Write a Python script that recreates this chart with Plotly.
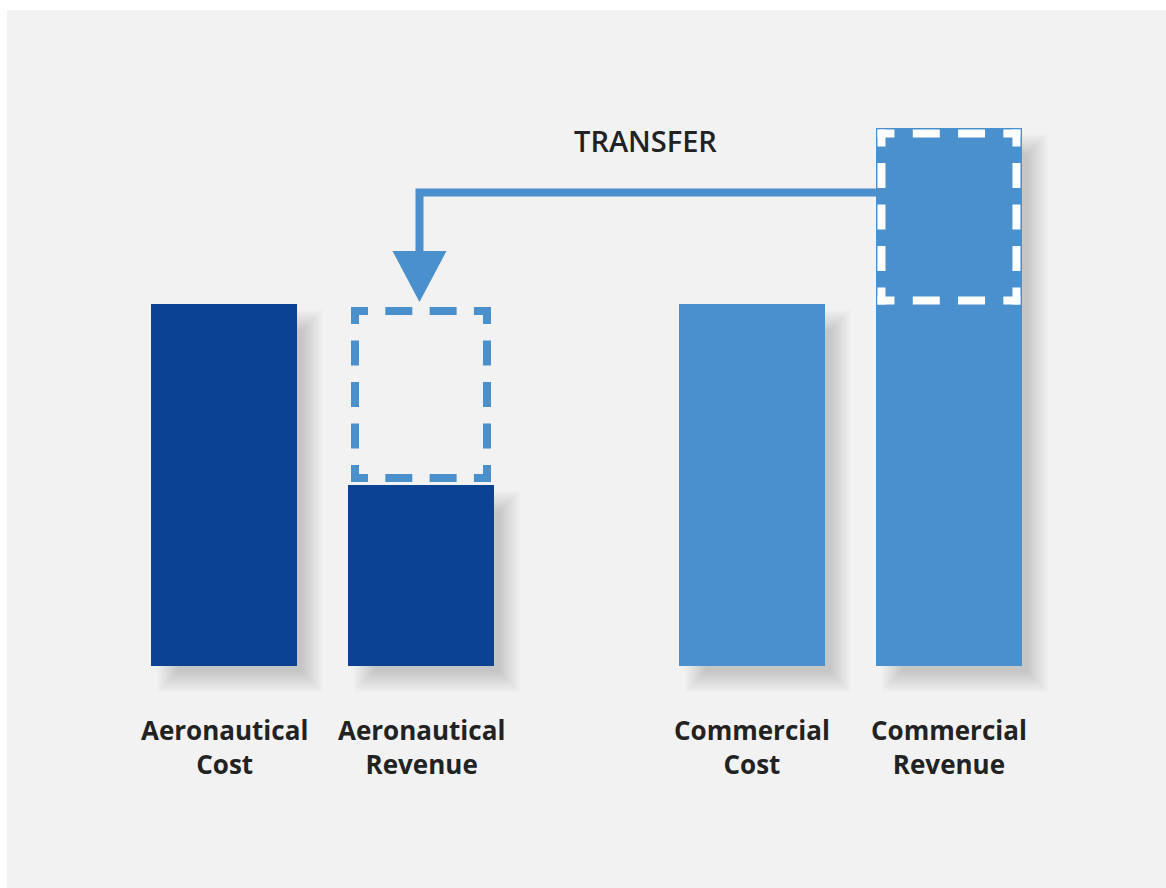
import plotly.graph_objects as go

# ---------------- data ----------------
categories = ["Aeronautical<br>Cost", "Aeronautical<br>Revenue",
              "Commercial<br>Cost", "Commercial<br>Revenue"]
groups = ["Aeronautical", "Aeronautical", "Commercial", "Commercial"]
values = [100, 50, 100, 148.6]
transfer_label = "TRANSFER"

# ---------------- layout / style ----------------
positions = [0, 1, 2.68, 3.68]
bar_width = 0.741
colors = {"Aeronautical": "#0b4392", "Commercial": "#4a90cc"}
bg = "#f2f2f2"
text_color = "#222222"

W, H = 1166, 888
ml, mt = 7, 10
x0px, xs = 224.0, 197.0     # pixel of x=0, px per x unit
y0px, ys = 666.0, 3.62      # pixel of y=0, px per y unit
xr = [(ml - x0px) / xs, (W - x0px) / xs]
yr = [-(H - y0px) / ys, (y0px - mt) / ys]


def dx(px):
    return px / xs


def dy(px):
    return px / ys


bar_colors = [colors[g] for g in groups]

fig = go.Figure()
fig.add_trace(go.Bar(
    x=positions, y=values, width=bar_width,
    marker=dict(color=bar_colors, line=dict(width=0)),
    hoverinfo="skip", showlegend=False,
))

shapes = []
annotations = []

# soft drop shadows
for p, v in zip(positions, values):
    l = p - bar_width / 2 + dx(16)
    r = p + bar_width / 2 + dx(16)
    t = v - dy(16)
    b = -dy(16)
    for s in range(-10, 12, 2):
        shapes.append(dict(
            type="rect", layer="below", xref="x", yref="y",
            x0=l - dx(s), x1=r + dx(s), y0=b - dy(s), y1=t + dy(s),
            fillcolor="rgba(0,0,0,0.014)", line=dict(width=0),
        ))


def dash_string(L, n, d, c=17.0):
    g = (L - 2 * c - n * d) / (n + 1)
    parts = [c]
    for _ in range(n):
        parts += [g, d]
    parts += [g, c, 400]
    return ",".join(f"{val:.1f}px" for val in parts)


def dashed_box(left, right, top, bottom, color, lw=8):
    wpx = (right - left) * xs
    hpx = (top - bottom) * ys
    hd = dash_string(wpx, 2, 27)
    vd = dash_string(hpx, 3, 25)
    half_x = dx(lw / 2)
    half_y = dy(lw / 2)
    sides = [
        (left, top - half_y, right, top - half_y, hd),
        (left, bottom + half_y, right, bottom + half_y, hd),
        (left + half_x, top, left + half_x, bottom, vd),
        (right - half_x, top, right - half_x, bottom, vd),
    ]
    for x0, y0, x1, y1, d in sides:
        shapes.append(dict(
            type="line", xref="x", yref="y", x0=x0, y0=y0, x1=x1, y1=y1,
            line=dict(color=color, width=lw, dash=d),
        ))


transfer = values[0] - values[1]

# dashed box on aeronautical revenue (gap to cover)
ar = positions[1]
dashed_box(ar - bar_width / 2 + dx(3), ar + bar_width / 2 - dx(3),
           values[0] - dy(3), values[1] + dy(3), colors["Commercial"])

# white dashed box on commercial revenue (surplus transferred)
cr = positions[3]
wb_top = values[3] - dy(1.5)
dashed_box(cr - bar_width / 2 + dx(1.5), cr + bar_width / 2 - dx(1.5),
           wb_top, wb_top - (transfer - dy(6)), "#ffffff")

# transfer arrow
arrow_y = values[3] - dy(64.5)
x_start = cr - bar_width / 2
x_c = ar - dx(1.5)
y_base = values[0] + dy(53)
y_tip = values[0] + dy(2)
shapes.append(dict(
    type="path", xref="x", yref="y",
    path=f"M {x_start},{arrow_y} L {x_c},{arrow_y} L {x_c},{y_base - dy(2)}",
    line=dict(color=colors["Commercial"], width=8),
))
shapes.append(dict(
    type="path", xref="x", yref="y",
    path=(f"M {x_c - dx(27)},{y_base} L {x_c + dx(27)},{y_base} "
          f"L {x_c},{y_tip} Z"),
    fillcolor=colors["Commercial"], line=dict(width=0),
))

annotations.append(dict(
    x=(ar + x_start) / 2 - dx(3), y=arrow_y + dy(52), xref="x", yref="y",
    text=transfer_label, showarrow=False, xanchor="center", yanchor="middle",
    font=dict(family="Open Sans", size=29, color=text_color, weight=600),
))

for p, c in zip(positions, categories):
    annotations.append(dict(
        x=p, y=-dy(81), xref="x", yref="y", text=c, showarrow=False,
        xanchor="center", yanchor="middle",
        font=dict(family="Open Sans", size=26, color=text_color, weight=700),
    ))

fig.update_layout(
    width=W, height=H,
    margin=dict(l=ml, r=0, t=mt, b=0, pad=0),
    paper_bgcolor="#ffffff", plot_bgcolor=bg,
    xaxis=dict(range=xr, visible=False, fixedrange=True),
    yaxis=dict(range=yr, visible=False, fixedrange=True),
    shapes=shapes, annotations=annotations,
    bargap=0, showlegend=False, hovermode=False,
)

fig.write_html("out.html",
               config={"displayModeBar": False, "staticPlot": True},
               post_script="document.body.style.margin='0';"
                           "document.body.style.overflow='hidden';")
